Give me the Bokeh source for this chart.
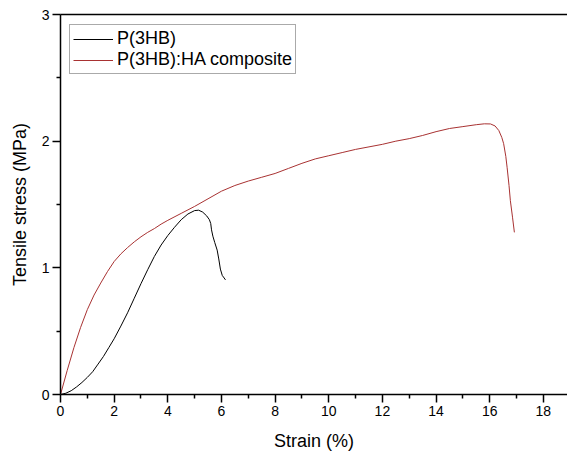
from bokeh.plotting import figure
from bokeh.models import Range1d, LinearAxis, Legend, LegendItem, FixedTicker
from bokeh.embed import file_html
from bokeh.resources import INLINE

# P(3HB)
phb_strain = [0, 0.2, 0.4, 0.6, 0.8, 1.0, 1.2, 1.4, 1.6, 1.8, 2.0, 2.25, 2.5, 2.75, 3.0,
              3.25, 3.5, 3.75, 4.0, 4.25, 4.5, 4.75, 5.0, 5.15, 5.3, 5.45, 5.55, 5.6,
              5.63, 5.68, 5.75, 5.84, 5.9, 5.96, 6.03, 6.1, 6.15]
phb_stress = [0, 0.01, 0.03, 0.06, 0.095, 0.135, 0.18, 0.24, 0.30, 0.37, 0.44, 0.54, 0.645,
              0.76, 0.875, 0.985, 1.09, 1.18, 1.255, 1.32, 1.38, 1.425, 1.452, 1.455, 1.44,
              1.41, 1.38, 1.35, 1.30, 1.25, 1.20, 1.14, 1.07, 0.99, 0.94, 0.92, 0.905]

# P(3HB):HA composite
comp_strain = [0, 0.25, 0.5, 0.75, 1.0, 1.25, 1.5, 1.75, 2.0, 2.25, 2.5, 2.75, 3.0, 3.25,
               3.5, 3.75, 4.0, 4.5, 5.0, 5.5, 6.0, 6.5, 7.0, 7.5, 8.0, 8.5, 9.0, 9.5, 10.0,
               10.5, 11.0, 11.5, 12.0, 12.5, 13.0, 13.5, 14.0, 14.5, 15.0, 15.5, 15.8,
               16.03, 16.2, 16.34, 16.45, 16.52, 16.6, 16.65, 16.72, 16.77, 16.85, 16.92]
comp_stress = [0, 0.19, 0.37, 0.53, 0.67, 0.785, 0.88, 0.97, 1.05, 1.11, 1.16, 1.205, 1.245,
               1.28, 1.31, 1.345, 1.375, 1.43, 1.485, 1.545, 1.605, 1.65, 1.685, 1.715, 1.745,
               1.785, 1.825, 1.86, 1.885, 1.91, 1.935, 1.955, 1.975, 2.0, 2.02, 2.045, 2.075,
               2.10, 2.115, 2.13, 2.137, 2.136, 2.12, 2.084, 2.03, 1.98, 1.88, 1.79, 1.65,
               1.53, 1.40, 1.28]

x_ticks = [0, 2, 4, 6, 8, 10, 12, 14, 16, 18]
x_minor = [1, 3, 5, 7, 9, 11, 13, 15, 17]
y_ticks = [0, 1, 2, 3]
y_minor = [0.5, 1.5, 2.5]

FONT = "Liberation Sans"

p = figure(width=567, height=466, output_backend="svg", toolbar_location=None,
           x_range=Range1d(0, 18.9), y_range=Range1d(0, 3),
           min_border_left=60, min_border_right=0, min_border_top=14, min_border_bottom=72)
p.outline_line_color = None
p.xgrid.visible = False
p.ygrid.visible = False
p.background_fill_color = "white"
p.border_fill_color = "white"

r1 = p.line(phb_strain, phb_stress, line_color="black", line_width=1)
r2 = p.line(comp_strain, comp_stress, line_color="#a83232", line_width=1)

p.xaxis.ticker = FixedTicker(ticks=x_ticks, minor_ticks=x_minor)
p.yaxis.ticker = FixedTicker(ticks=y_ticks, minor_ticks=y_minor)
p.xaxis.axis_label = "Strain (%)"
p.yaxis.axis_label = "Tensile stress (MPa)"
for ax in (p.xaxis[0], p.yaxis[0]):
    ax.axis_line_width = 1.5
    ax.axis_line_color = "black"
    ax.major_tick_line_width = 1.5
    ax.minor_tick_line_width = 1.5
    ax.major_tick_line_color = "black"
    ax.minor_tick_line_color = "black"
    ax.major_tick_out = 8
    ax.major_tick_in = 0
    ax.minor_tick_out = 4
    ax.minor_tick_in = 0
    ax.major_label_text_font = FONT
    ax.major_label_text_font_size = "14px"
    ax.major_label_text_color = "black"
    ax.major_label_standoff = 3
    ax.axis_label_text_font = FONT
    ax.axis_label_text_font_size = "18px"
    ax.axis_label_text_font_style = "normal"
    ax.axis_label_text_color = "black"
    ax.axis_label_standoff = 12
p.yaxis[0].axis_label_standoff = 9

top = LinearAxis(ticker=FixedTicker(ticks=[]), major_tick_out=0, major_tick_in=0,
                 minor_tick_out=0, minor_tick_in=0, major_label_text_font_size="0px",
                 axis_line_width=1.5, axis_line_color="black")
p.add_layout(top, "above")

legend = Legend(items=[LegendItem(label="P(3HB)", renderers=[r1]),
                       LegendItem(label="P(3HB):HA composite", renderers=[r2])],
                location=(9, 320))
legend.label_text_font = FONT
legend.label_text_font_size = "18px"
legend.label_text_color = "black"
legend.glyph_width = 40
legend.glyph_height = 20
legend.label_height = 20
legend.label_standoff = 4
legend.spacing = 0
legend.padding = 3
legend.margin = 0
legend.border_line_color = "#555555"
legend.border_line_width = 1
legend.background_fill_alpha = 1
p.add_layout(legend)

open("out.html", "w").write(file_html(p, INLINE))
